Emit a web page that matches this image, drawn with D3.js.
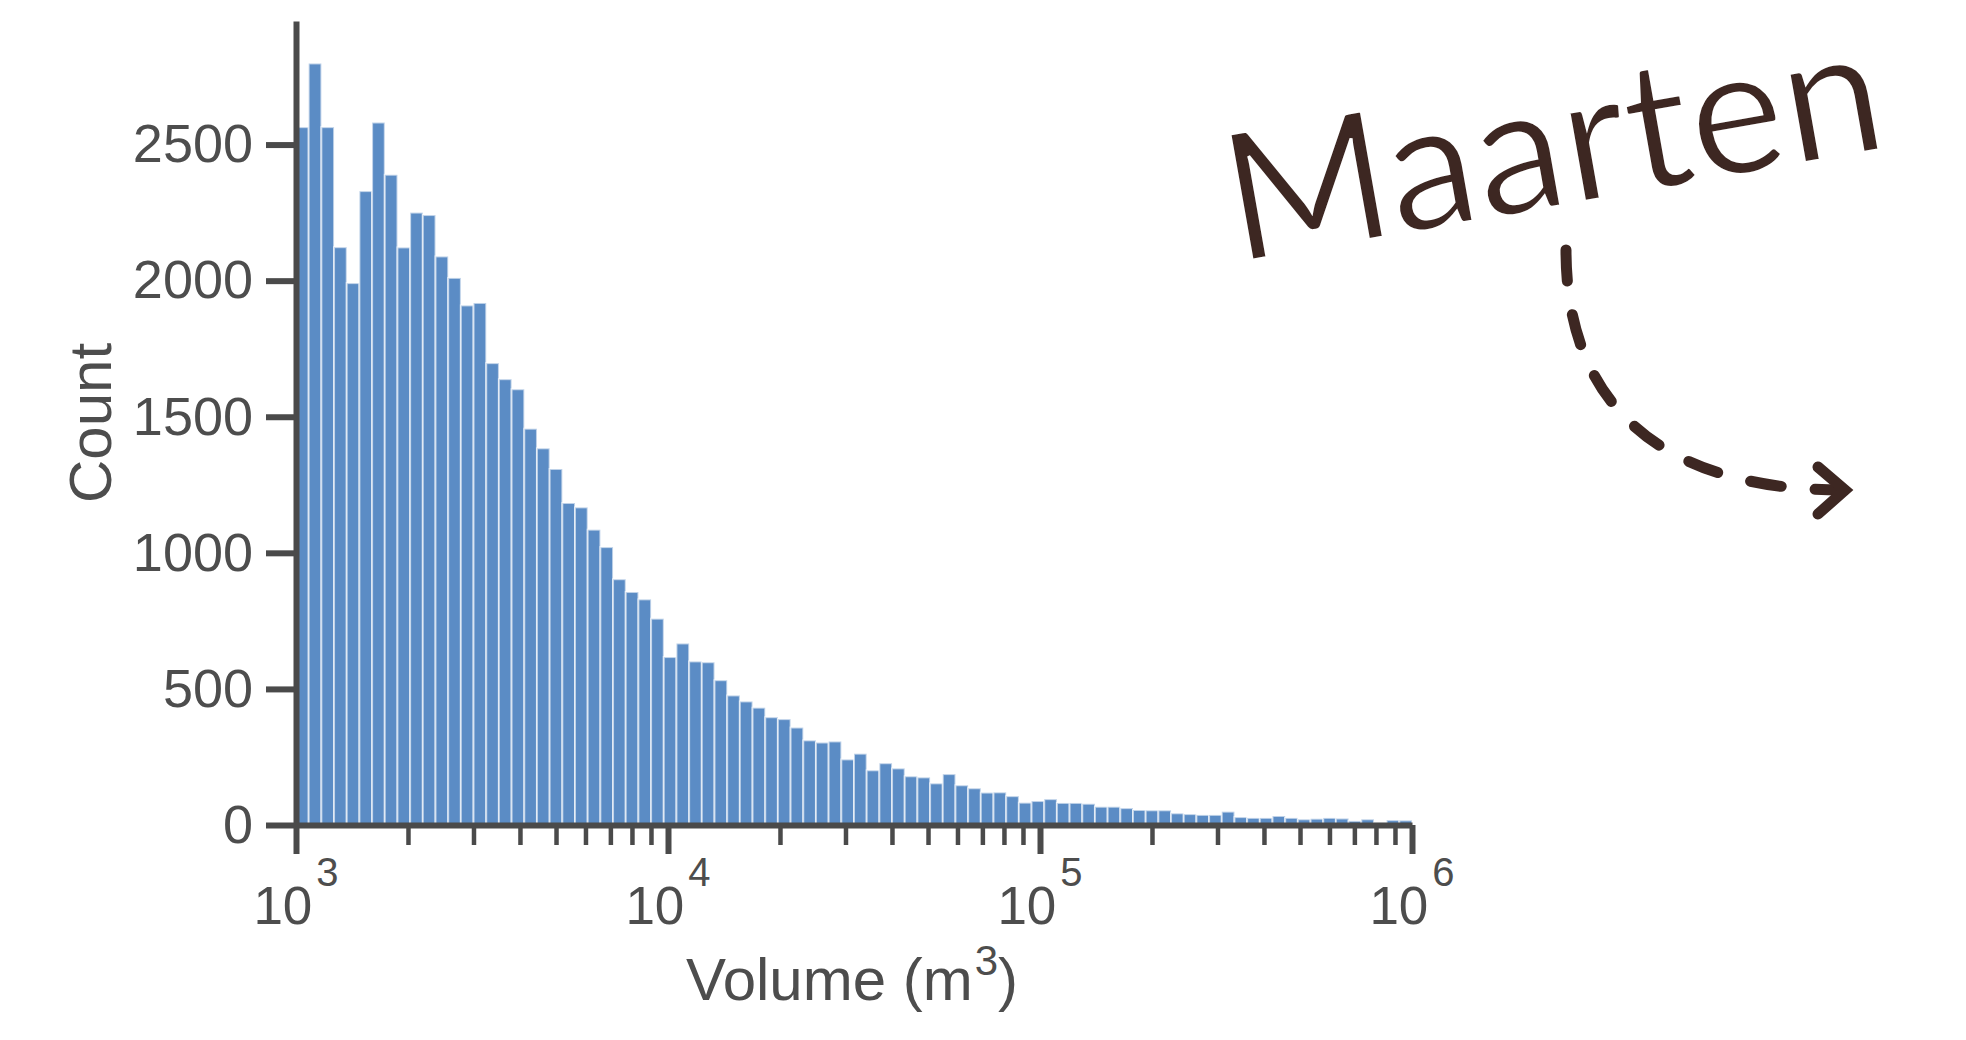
<!DOCTYPE html>
<html>
<head>
<meta charset="utf-8">
<script src="https://cdn.jsdelivr.net/npm/d3@7/dist/d3.min.js"></script>
<style>
  body { margin: 0; background: #fff; }
  svg { display: block; }
  text { font-family: "Liberation Sans", Arial, sans-serif; fill: #4d4d4d; }
</style>
</head>
<body>
<script>
const barColor = "#5b8cc5";
const inkColor = "#4a4a4a";
const signColor = "#3d2722";

// histogram counts, 88 log-spaced bins from 1e3 to 1e6
const counts = [
  2564, 2798, 2564, 2123, 1991, 2329, 2581, 2389, 2122, 2250,
  2241, 2089, 2010, 1909, 1918, 1697, 1638, 1601, 1456, 1384,
  1308, 1183, 1167, 1085, 1021, 903, 856, 829, 758, 617,
  667, 601, 598, 532, 476, 454, 431, 396, 389, 358,
  311, 303, 307, 241, 262, 201, 227, 208, 179, 175,
  153, 187, 146, 135, 119, 120, 106, 82, 88, 95,
  81, 81, 78, 67, 67, 62, 55, 54, 54, 43,
  40, 37, 37, 49, 29, 26, 26, 33, 26, 21,
  23, 26, 24, 15, 21, 8, 18, 17
];
const xRange = [1e3, 1e6];
const yTicks = [0, 500, 1000, 1500, 2000, 2500];
const majorTicks = [1e3, 1e4, 1e5, 1e6];
const yMax = 2954;

var width = 1966,
  height = 1040;

var svg = d3
  .select("body")
  .append("svg")
  .attr("width", width)
  .attr("height", height);

var x = d3.scaleLog().domain(xRange).range([296, 1412]);
var y = d3.scaleLinear().domain([0, yMax]).range([825, 21]);

// bin edges are evenly spaced in log10
var nBins = counts.length;
var logLo = Math.log10(xRange[0]),
  logHi = Math.log10(xRange[1]);
var bins = counts.map((c, i) => ({
  x0: Math.pow(10, logLo + ((logHi - logLo) * i) / nBins),
  x1: Math.pow(10, logLo + ((logHi - logLo) * (i + 1)) / nBins),
  count: c
}));

svg
  .append("g")
  .selectAll("rect")
  .data(bins)
  .enter()
  .append("rect")
  .attr("x", (d) => x(d.x0))
  .attr("width", (d) => x(d.x1) - x(d.x0))
  .attr("y", (d) => y(d.count))
  .attr("height", (d) => y(0) - y(d.count))
  .style("fill", barColor)
  .style("stroke", "#fff")
  .style("stroke-opacity", 0.6)
  .style("stroke-width", 2);

// minor x ticks
var minorTicks = x.ticks().filter((t) => !majorTicks.includes(t));
svg
  .append("g")
  .attr("transform", `translate(0, ${y(0)})`)
  .call(d3.axisBottom(x).tickValues(minorTicks).tickSize(20).tickFormat(""))
  .call((g) => g.select(".domain").remove())
  .call((g) => g.selectAll("line").style("stroke", inkColor).style("stroke-width", 4.5));

// major x ticks + axis line
var xAxisG = svg
  .append("g")
  .attr("transform", `translate(0, ${y(0)})`)
  .call(d3.axisBottom(x).tickValues(majorTicks).tickSizeInner(29).tickSizeOuter(0).tickFormat(""));
xAxisG.select(".domain").style("stroke", inkColor).style("stroke-width", 6);
xAxisG.selectAll("line").style("stroke", inkColor).style("stroke-width", 6);

// 10^k labels
var xLab = svg
  .append("g")
  .selectAll("text")
  .data(majorTicks)
  .enter()
  .append("text")
  .attr("x", (d) => x(d))
  .attr("y", 924)
  .attr("text-anchor", "middle")
  .style("font-size", "53px");
xLab.append("tspan").text("10");
xLab
  .append("tspan")
  .attr("dx", 4)
  .attr("dy", -38)
  .style("font-size", "40px")
  .text((d) => Math.round(Math.log10(d)));

// y axis
var yAxisG = svg
  .append("g")
  .attr("transform", `translate(${x(xRange[0])}, 0)`)
  .call(
    d3.axisLeft(y)
      .tickValues(yTicks)
      .tickFormat(d3.format("d"))
      .tickSizeInner(30)
      .tickSizeOuter(0)
      .tickPadding(13)
  );
yAxisG.select(".domain").style("stroke", inkColor).style("stroke-width", 6);
yAxisG.selectAll("line").style("stroke", inkColor).style("stroke-width", 6);
yAxisG
  .selectAll("text")
  .style("font-size", "54px")
  .style("font-family", '"Liberation Sans", Arial, sans-serif')
  .style("fill", "#4d4d4d");

// axis titles
var xTitle = svg
  .append("text")
  .attr("x", 852)
  .attr("y", 1000)
  .attr("text-anchor", "middle")
  .style("font-size", "60px");
xTitle.append("tspan").text("Volume (m");
xTitle.append("tspan").attr("dx", 2).attr("dy", -25).style("font-size", "42px").text("3");
xTitle.append("tspan").attr("dy", 25).text(")");

svg
  .append("text")
  .text("Count")
  .attr("transform", "translate(111, 423) rotate(-90)")
  .attr("text-anchor", "middle")
  .style("font-size", "60px");

// signature + dashed arrow (white outline thins the regular weight a bit)
svg
  .append("text")
  .text("Maarten")
  .attr("transform", "translate(1236, 263) rotate(-10)")
  .style("font-family", "Lato, 'Open Sans', sans-serif")
  .style("font-size", "179px")
  .style("fill", signColor)
  .style("stroke", "#fff")
  .style("stroke-width", 3);

svg
  .append("path")
  .attr("d", "M1566,250 C1566,420 1680,490 1842,490")
  .style("fill", "none")
  .style("stroke", signColor)
  .style("stroke-width", 11)
  .style("stroke-linecap", "round")
  .style("stroke-dasharray", "31,34");

svg
  .append("path")
  .attr("d", "M1818,467 L1845,490 L1818,514")
  .style("fill", "none")
  .style("stroke", signColor)
  .style("stroke-width", 11)
  .style("stroke-linecap", "round")
  .style("stroke-linejoin", "miter");
</script>
</body>
</html>
